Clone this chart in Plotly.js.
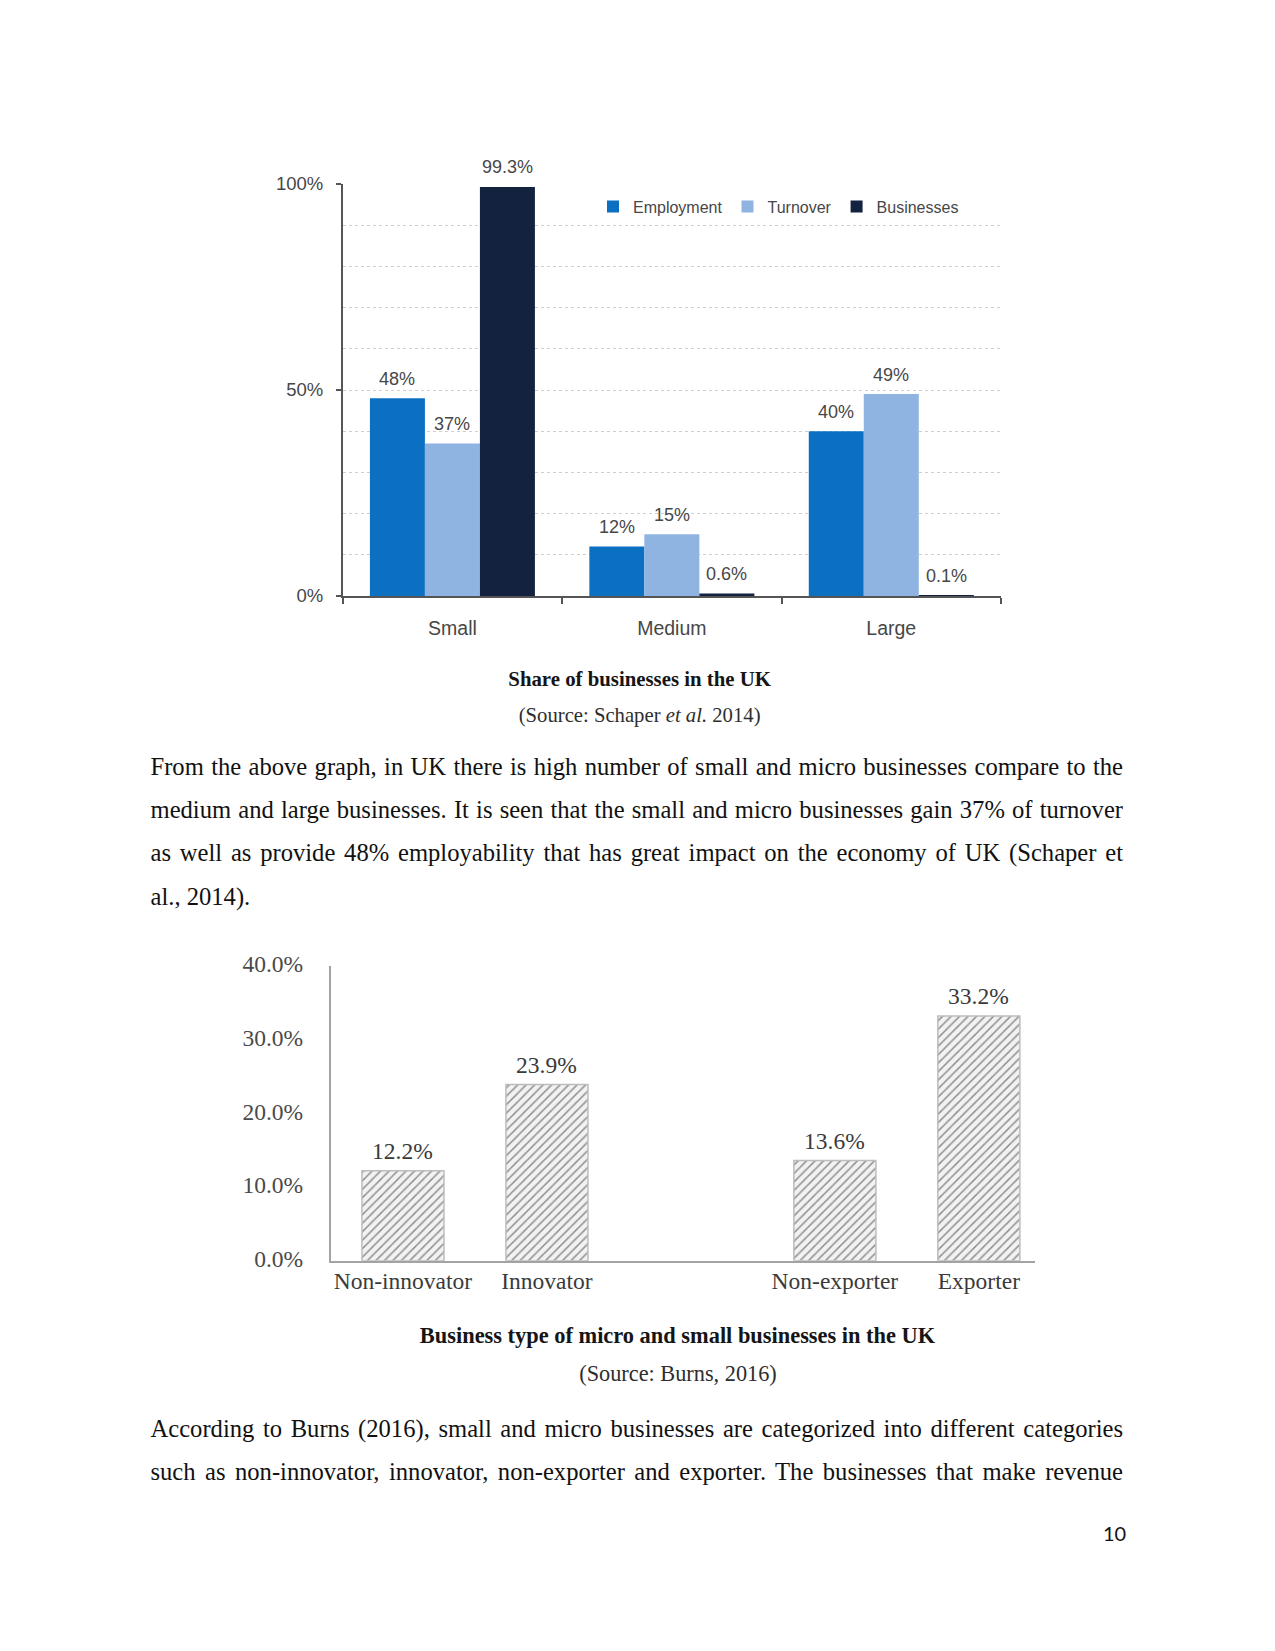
<!DOCTYPE html>
<html>
<head>
<meta charset="utf-8">
<script src="https://cdn.plot.ly/plotly-3.0.1.min.js"></script>
<style>
  html, body { margin: 0; padding: 0; background: #ffffff; }
  #page { position: relative; width: 1275px; height: 1651px; background: #ffffff; overflow: hidden; }
  #chart { position: absolute; left: 0; top: 0; width: 1275px; height: 1651px; }
  .jl { position: absolute; left: 150.5px; width: 972.5px; height: 43.2px; line-height: 43.2px;
        font-family: "Liberation Serif", "Times New Roman", serif; font-size: 24.6px; color: #111;
        white-space: nowrap; text-align: justify; text-align-last: justify; z-index: 5; }
  .jl.last { text-align: left; text-align-last: left; }
  .cap { position: absolute; transform: translateX(-50%); white-space: nowrap; line-height: 30px;
         font-family: "Liberation Serif", "Times New Roman", serif; z-index: 5; }
  .cap.b { font-weight: bold; color: #151515; }
  .cap.s { color: #2e2e2e; }
  #pnum { position: absolute; left: 1103px; top: 1520px; font-family: Lato, "Open Sans", sans-serif;
          font-size: 20px; line-height: 26px; color: #111; z-index: 5; }
</style>
</head>
<body>
<div id="page">
  <div id="chart"></div>

  <div class="cap b" style="left:639.6px; top:664px; font-size:20.8px;">Share of businesses in the UK</div>
  <div class="cap s" style="left:639.6px; top:700px; font-size:20.7px;">(Source: Schaper <i>et al.</i> 2014)</div>

  <div class="jl" style="top:745px;">From the above graph, in UK there is high number of small and micro businesses compare to the</div>
  <div class="jl" style="top:788.2px;">medium and large businesses. It is seen that the small and micro businesses gain 37% of turnover</div>
  <div class="jl" style="top:831.4px;">as well as provide 48% employability that has great impact on the economy of UK (Schaper et</div>
  <div class="jl last" style="top:874.6px;">al., 2014).</div>

  <div class="cap b" style="left:677.5px; top:1321px; font-size:22.4px;">Business type of micro and small businesses in the UK</div>
  <div class="cap s" style="left:678px; top:1359px; font-size:22.3px;">(Source: Burns, 2016)</div>

  <div class="jl" style="top:1407.2px;">According to Burns (2016), small and micro businesses are categorized into different categories</div>
  <div class="jl" style="top:1450.4px;">such as non-innovator, innovator, non-exporter and exporter. The businesses that make revenue</div>

  <div id="pnum">10</div>
</div>

<script>
// ---------- Data: chart 1 (Share of businesses in the UK) ----------
const sizeCategories = ['Small', 'Medium', 'Large'];
const employmentShare = [48, 12, 40];
const turnoverShare = [37, 15, 49];
const businessesShare = [99.3, 0.6, 0.1];
const seriesNames = ['Employment', 'Turnover', 'Businesses'];

// ---------- Data: chart 2 (Business type of micro and small businesses) ----------
const typeCategories = ['Non-innovator', 'Innovator', 'Non-exporter', 'Exporter'];
const typeShares = [12.2, 23.9, 13.6, 33.2];

// ---------- Styling ----------
const seriesColors = ['#0b6fc2', '#8fb4e2', '#13233f'];
const sansFont = 'Liberation Sans, Arial, sans-serif';
const serifFont = 'Liberation Serif, Times New Roman, serif';
const textGrey = '#474747';
const W = 1275, H = 1651;
const px = v => v / W;
const py = v => (H - v) / H;

const bargap1 = 0.248;
const seriesValues = [employmentShare, turnoverShare, businessesShare];

const traces = seriesValues.map((vals, j) => ({
  type: 'bar',
  name: seriesNames[j],
  x: sizeCategories,
  y: vals,
  xaxis: 'x', yaxis: 'y',
  marker: { color: seriesColors[j], line: { width: 0 } },
  hoverinfo: 'x+y+name'
}));

// chart 2: leave an empty slot between the innovation pair and the export pair
const typePositions = typeCategories.map((c, i) => (i < 2 ? i : i + 1));
traces.push({
  type: 'bar',
  name: 'Share',
  x: typePositions,
  y: typeShares,
  width: 0.57,
  xaxis: 'x2', yaxis: 'y2',
  showlegend: false,
  marker: {
    color: '#ececec',
    line: { color: '#bdbdbd', width: 1.5 },
    pattern: { shape: '/', size: 6, solidity: 0.25, fgcolor: '#8f8f8f', bgcolor: '#f2f2f2' }
  },
  hovertemplate: '%{text}: %{y:.1f}%<extra></extra>',
  text: typeCategories,
  textposition: 'none'
});

// data labels
const annotations = [];
const groupW = 1 - bargap1;
const barW = groupW / seriesValues.length;
seriesValues.forEach((vals, j) => {
  vals.forEach((v, i) => {
    annotations.push({
      xref: 'x', yref: 'y',
      x: i - groupW / 2 + (j + 0.5) * barW,
      y: v,
      text: v + '%',
      showarrow: false,
      yanchor: 'middle',
      yshift: 19.5,
      font: { family: sansFont, size: 18, color: textGrey }
    });
  });
});
typeShares.forEach((v, i) => {
  annotations.push({
    xref: 'x2', yref: 'y2',
    x: typePositions[i],
    y: v,
    text: v.toFixed(1) + '%',
    showarrow: false,
    yanchor: 'middle',
    yshift: 20,
    font: { family: serifFont, size: 23.5, color: '#3a3a3a' }
  });
});

const layout = {
  width: W, height: H,
  margin: { l: 0, r: 0, t: 0, b: 0, pad: 0 },
  paper_bgcolor: '#ffffff',
  plot_bgcolor: 'rgba(0,0,0,0)',
  barmode: 'group',
  bargap: bargap1,
  bargroupgap: 0,
  showlegend: true,
  legend: {
    orientation: 'h',
    x: px(593), xanchor: 'left',
    y: py(206.5), yanchor: 'middle',
    bgcolor: 'rgba(0,0,0,0)',
    font: { family: sansFont, size: 16, color: textGrey },
    itemwidth: 30,
    traceorder: 'normal'
  },
  xaxis: {
    domain: [px(342.7), px(1001)],
    anchor: 'y',
    type: 'category',
    range: [-0.5, 2.5],
    showline: true, linecolor: '#555555', linewidth: 2,
    ticks: 'outside', tickson: 'boundaries', ticklen: 6, tickwidth: 1.5, tickcolor: '#555555',
    tickfont: { family: sansFont, size: 19.5, color: textGrey },
    ticklabelstandoff: 14,
    showgrid: false, zeroline: false,
    fixedrange: true
  },
  yaxis: {
    domain: [py(596), py(184)],
    anchor: 'x',
    range: [0, 100],
    dtick: 50,
    ticksuffix: '%',
    showline: true, linecolor: '#555555', linewidth: 1.5,
    ticks: 'outside', ticklen: 5, tickwidth: 1.5, tickcolor: '#555555',
    tickfont: { family: sansFont, size: 18.5, color: textGrey },
    ticklabelstandoff: 9,
    showgrid: true, gridcolor: '#cfcfcf', gridwidth: 1.2, griddash: 'dot',
    minor: { dtick: 10, showgrid: true, gridcolor: '#cfcfcf', gridwidth: 1.2, griddash: 'dot', ticks: '' },
    zeroline: false,
    fixedrange: true
  },
  xaxis2: {
    domain: [px(331), px(1035)],
    anchor: 'y2',
    range: [-0.5, 4.39],
    tickvals: typePositions,
    ticktext: typeCategories,
    showline: true, linecolor: '#a3a3a3', linewidth: 2.2,
    ticks: '',
    tickfont: { family: serifFont, size: 23.5, color: '#3a3a3a' },
    ticklabelstandoff: -2,
    showgrid: false, zeroline: false,
    fixedrange: true
  },
  yaxis2: {
    domain: [py(1260.7), py(966)],
    anchor: 'x2',
    range: [0, 40],
    dtick: 10,
    tickformat: '.1f',
    ticksuffix: '%',
    showline: true, linecolor: '#a3a3a3', linewidth: 2.2,
    ticks: '',
    tickfont: { family: serifFont, size: 23.5, color: '#4a4a4a' },
    ticklabelstandoff: 21,
    ticklabelshift: -2,
    showgrid: false, zeroline: false,
    fixedrange: true
  },
  annotations: annotations
};

Plotly.newPlot('chart', traces, layout, { displayModeBar: false, staticPlot: false, responsive: false });
</script>
</body>
</html>
